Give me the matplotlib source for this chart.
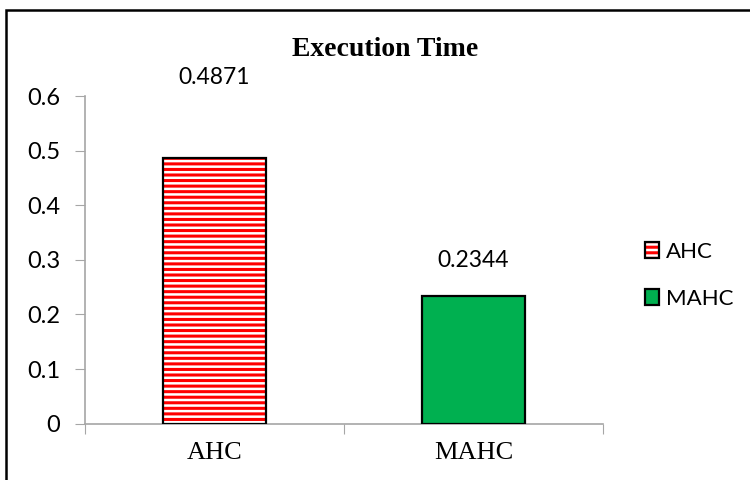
import matplotlib.pyplot as plt
from matplotlib.patches import Patch, Rectangle

# execution time per method (seconds)
methods = ['AHC', 'MAHC']
exec_time = [0.4871, 0.2344]
yticks = [0, 0.1, 0.2, 0.3, 0.4, 0.5, 0.6]
ytick_labels = ['0', '0.1', '0.2', '0.3', '0.4', '0.5', '0.6']

plt.rcParams['hatch.linewidth'] = 2.2
sans = ['Lato', 'DejaVu Sans']
serif = ['Liberation Serif', 'DejaVu Serif']
grey = '#A6A6A6'

fig = plt.figure(figsize=(7.5, 4.8), dpi=100)
ax = fig.add_axes([85/750, 1-423.6/480, 518/750, (423.6-96)/480])

x = list(range(len(methods)))
# AHC: red horizontal stripes, MAHC: solid green
ax.bar(x[0], exec_time[0], width=0.4, facecolor='white', edgecolor='red',
       hatch='---', linewidth=0, zorder=2)
ax.bar(x[0], exec_time[0], width=0.4, fill=False, edgecolor='black',
       linewidth=1.6, zorder=3)
ax.bar(x[1], exec_time[1], width=0.4, facecolor='#00B050', edgecolor='black',
       linewidth=1.6, zorder=3)

# value labels above the bars
label_off = [58, 25]
for xi, v, off in zip(x, exec_time, label_off):
    ax.annotate('%.4f' % v, xy=(xi, v), xytext=(0, off), textcoords='offset points',
                ha='center', va='center', fontsize=16.5, family=sans)

ax.set_xlim(-0.5, 1.5)
ax.set_ylim(0, 0.6)
ax.set_yticks(yticks)
ax.set_yticklabels(ytick_labels, family=sans, fontsize=17)
ax.set_xticks([-0.5, 0.5, 1.5])
ax.set_xticklabels([])
ax.set_xticks(x, minor=True)
ax.set_xticklabels(methods, minor=True, family=serif, fontsize=19)
ax.tick_params(axis='x', which='minor', length=0, pad=13)
ax.tick_params(axis='x', which='major', length=7, color=grey, direction='out')
ax.tick_params(axis='y', length=7, color=grey, pad=11)
for s in ['top', 'right']:
    ax.spines[s].set_visible(False)
for s in ['left', 'bottom']:
    ax.spines[s].set_color(grey)
    ax.spines[s].set_linewidth(1.2)

# legend on the right
h_ahc = (Patch(facecolor='white', edgecolor='red', hatch='---', linewidth=0),
         Patch(fill=False, edgecolor='black', linewidth=1.6))
h_mahc = Patch(facecolor='#00B050', edgecolor='black', linewidth=1.6)
fig.legend([h_ahc, h_mahc], methods, loc='upper left',
           bbox_to_anchor=(645/750, 1-242/480), frameon=False,
           prop={'family': sans, 'size': 16}, handlelength=0.65, handleheight=0.7,
           handletextpad=0.3, labelspacing=1.2, borderpad=0, borderaxespad=0)

fig.text(385/750, 1-49/480, 'Execution Time', ha='center', va='center',
         fontsize=20, fontweight='bold', family=serif)

# chart frame
fig.patches.append(Rectangle((6/750, -0.05), 1.0, 1.05-9.5/480, transform=fig.transFigure,
                             fill=False, edgecolor='black', linewidth=1.8, clip_on=False))

plt.savefig('out.png', dpi=100)
